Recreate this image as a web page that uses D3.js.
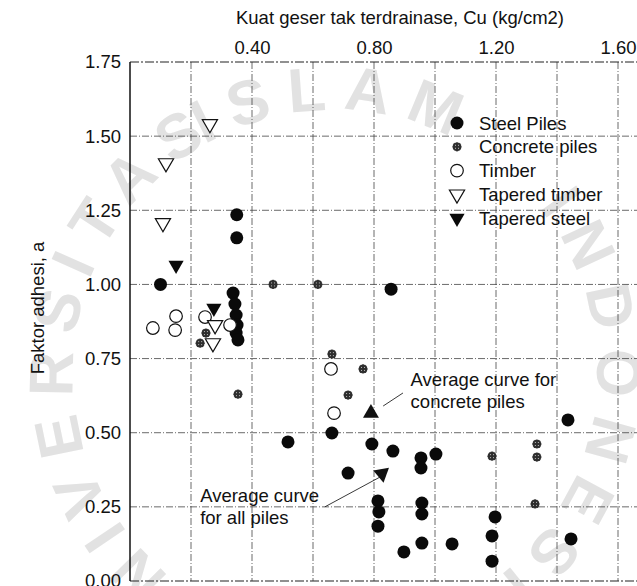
<!DOCTYPE html>
<html lang="en">
<head>
<meta charset="utf-8">
<style>
    body { margin: 0; background: #fff; }
    svg text { font-family: "Liberation Sans", Arial, sans-serif; }
</style>
</head>
<body>
<svg width="637" height="586"></svg>
<script src="https://d3js.org/d3.v7.min.js"></script>
<script>
// data: [Cu (kg/cm2), adhesion factor]
var steelPiles = [
    [0.10, 1.00], [0.35, 1.235], [0.35, 1.157], [0.338, 0.971], [0.344, 0.934],
    [0.348, 0.897], [0.351, 0.863], [0.348, 0.836], [0.354, 0.813], [0.856, 0.984],
    [0.662, 0.499], [0.518, 0.469], [0.793, 0.462], [0.862, 0.438], [0.954, 0.415],
    [0.954, 0.381], [1.003, 0.428], [0.715, 0.364], [0.813, 0.27], [0.816, 0.233],
    [0.813, 0.185], [0.957, 0.263], [0.957, 0.226], [0.898, 0.098], [0.957, 0.128],
    [1.056, 0.125], [1.436, 0.543], [1.446, 0.142], [1.197, 0.216], [1.187, 0.152],
    [1.187, 0.067]
];
var concretePiles = [
    [0.469, 1.00], [0.616, 1.00], [0.249, 0.836], [0.23, 0.802], [0.354, 0.63],
    [0.662, 0.765], [0.764, 0.715], [0.715, 0.627], [1.187, 0.421], [1.334, 0.462],
    [1.334, 0.418], [1.328, 0.26]
];
var timber = [
    [0.075, 0.853], [0.151, 0.893], [0.148, 0.846], [0.246, 0.89], [0.328, 0.863],
    [0.659, 0.715], [0.669, 0.566]
];
var taperedTimber = [
    [0.262, 1.541], [0.118, 1.409], [0.108, 1.207], [0.279, 0.863], [0.272, 0.802]
];
var taperedSteel = [
    [0.151, 1.065], [0.275, 0.92]
];

var xGrid = [0.2, 0.4, 0.6, 0.8, 1.0, 1.2, 1.4, 1.6];
var xLabels = [0.4, 0.8, 1.2, 1.6];
var yTicks = [0, 0.25, 0.5, 0.75, 1.0, 1.25, 1.5, 1.75];
var legendNames = ["Steel Piles", "Concrete piles", "Timber", "Tapered timber", "Tapered steel"];

// annotations (text position, line start/end, arrow head) in data units
var noteConcrete = { lines: ["Average curve for", "concrete piles"], at: [0.92, 0.659], from: [0.895, 0.634], to: [0.83, 0.59], head: [0.79, 0.566], rot: 0 };
var noteAll = { lines: ["Average curve", "for all piles"], at: [0.23, 0.267], from: [0.639, 0.25], to: [0.826, 0.354], head: [0.826, 0.362], rot: 170 };

var svg = d3.select("svg"),
    pL = 130, pT = 62, pB = 581, pR = 637;

var x = d3.scaleLinear().domain([0, 1.6]).range([pL, 618]);
var y = d3.scaleLinear().domain([0, 1.75]).range([pB, pT]);

// watermark seal text
var cx = 335, cy = 372, r = 262;
svg.append("path")
    .attr("id", "wm")
    .attr("fill", "none")
    .attr("d", "M" + cx + "," + (cy + r) + " A" + r + "," + r + " 0 1 1 " + cx + "," + (cy - r) +
        " A" + r + "," + r + " 0 1 1 " + cx + "," + (cy + r));
[["UNIVERSITAS", "25%"], ["ISLAM", "50%"], ["INDONESIA", "79%"]].forEach(function (w) {
    svg.append("text")
        .attr("fill", "#e2e2e2")
        .style("font-size", "62px")
        .style("font-weight", "bold")
        .style("letter-spacing", "16px")
        .append("textPath")
        .attr("href", "#wm")
        .attr("startOffset", w[1])
        .attr("text-anchor", "middle")
        .text(w[0]);
});

// pattern for the speckled concrete markers
var pat = svg.append("defs").append("pattern")
    .attr("id", "speck").attr("width", 3).attr("height", 3)
    .attr("patternUnits", "userSpaceOnUse");
pat.append("rect").attr("width", 3).attr("height", 3).attr("fill", "#2e2e2e");
pat.append("rect").attr("x", 1).attr("y", 1).attr("width", 1).attr("height", 1).attr("fill", "#bbb");

// grid (dash-dot)
var dash = "7,2,1,2";
svg.append("g").selectAll("line").data(xGrid).enter().append("line")
    .attr("x1", function (d) { return x(d); }).attr("x2", function (d) { return x(d); })
    .attr("y1", pT).attr("y2", pB)
    .attr("stroke", "#444").attr("stroke-width", 0.8).attr("stroke-dasharray", dash);
svg.append("g").selectAll("line").data(yTicks.slice(1, -1)).enter().append("line")
    .attr("x1", pL).attr("x2", pR)
    .attr("y1", function (d) { return y(d); }).attr("y2", function (d) { return y(d); })
    .attr("stroke", "#444").attr("stroke-width", 0.8).attr("stroke-dasharray", dash);

// frame
svg.append("line").attr("x1", pL).attr("x2", pR).attr("y1", pT).attr("y2", pT)
    .attr("stroke", "#222").attr("stroke-width", 1.2).attr("stroke-dasharray", "9,2,2,2");
svg.append("line").attr("x1", pL).attr("x2", pR).attr("y1", pB).attr("y2", pB)
    .attr("stroke", "#222").attr("stroke-width", 1.2).attr("stroke-dasharray", "9,2,2,2");
svg.append("line").attr("x1", pL).attr("x2", pL).attr("y1", pT).attr("y2", pB)
    .attr("stroke", "#111").attr("stroke-width", 1.5);

// axes
var xAxis = svg.append("g").attr("transform", "translate(0," + pT + ")")
    .call(d3.axisTop(x).tickValues(xLabels).tickSize(0).tickPadding(8).tickFormat(d3.format(".2f")));
var yAxis = svg.append("g").attr("transform", "translate(" + pL + ",0)")
    .call(d3.axisLeft(y).tickValues(yTicks).tickSize(0).tickPadding(9).tickFormat(d3.format(".2f")));
[xAxis, yAxis].forEach(function (a) {
    a.select(".domain").remove();
    a.selectAll("text").attr("fill", "#111").style("font-size", "18.5px").style("font-family", "Liberation Sans, Arial, sans-serif");
});

svg.append("text").attr("x", 400).attr("y", 24).attr("text-anchor", "middle")
    .attr("fill", "#111").style("font-size", "18.5px")
    .text("Kuat geser tak terdrainase, Cu (kg/cm2)");
svg.append("text").attr("transform", "translate(44,308) rotate(-90)").attr("text-anchor", "middle")
    .attr("fill", "#111").style("font-size", "18.5px")
    .text("Faktor adhesi, a");

// markers
var tri = d3.symbol().type(d3.symbolTriangle).size(100);
function drawMarker(sel, kind) {
    if (kind === 0) sel.append("circle").attr("r", 6.5).attr("fill", "#0a0a0a");
    if (kind === 1) sel.append("circle").attr("r", 4.6).attr("fill", "url(#speck)");
    if (kind === 2) sel.append("circle").attr("r", 6.3).attr("fill", "#fff").attr("stroke", "#111").attr("stroke-width", 1.2);
    if (kind === 3) sel.append("path").attr("d", tri).attr("transform", "rotate(180)")
        .attr("fill", "#fff").attr("stroke", "#111").attr("stroke-width", 1.2);
    if (kind === 4) sel.append("path").attr("d", tri).attr("transform", "rotate(180)").attr("fill", "#0a0a0a");
}

[steelPiles, concretePiles, timber, taperedTimber, taperedSteel].forEach(function (series, k) {
    svg.append("g").selectAll("g").data(series).enter().append("g")
        .attr("transform", function (d) { return "translate(" + x(d[0]) + "," + y(d[1]) + ")"; })
        .each(function () { drawMarker(d3.select(this), k); });
});

// annotations
[noteConcrete, noteAll].forEach(function (n) {
    var t = svg.append("text").attr("x", x(n.at[0])).attr("y", y(n.at[1]))
        .attr("fill", "#111").style("font-size", "18.5px");
    n.lines.forEach(function (l, i) {
        t.append("tspan").attr("x", x(n.at[0])).attr("dy", i ? 22 : 0).text(l);
    });
    svg.append("line")
        .attr("x1", x(n.from[0])).attr("y1", y(n.from[1]))
        .attr("x2", x(n.to[0])).attr("y2", y(n.to[1]))
        .attr("stroke", "#222").attr("stroke-width", 0.9);
    svg.append("path").attr("d", d3.symbol().type(d3.symbolTriangle).size(110))
        .attr("transform", "translate(" + x(n.head[0]) + "," + y(n.head[1]) + ") rotate(" + n.rot + ")")
        .attr("fill", "#111");
});

// legend
var lg = svg.append("g").attr("transform", "translate(457,123)");
legendNames.forEach(function (name, i) {
    var row = lg.append("g").attr("transform", "translate(0," + (i * 23.8) + ")");
    drawMarker(row, i);
    row.append("text").attr("x", 22).attr("y", 6.5).attr("fill", "#111")
        .style("font-size", "18.5px").text(name);
});
</script>
</body>
</html>
